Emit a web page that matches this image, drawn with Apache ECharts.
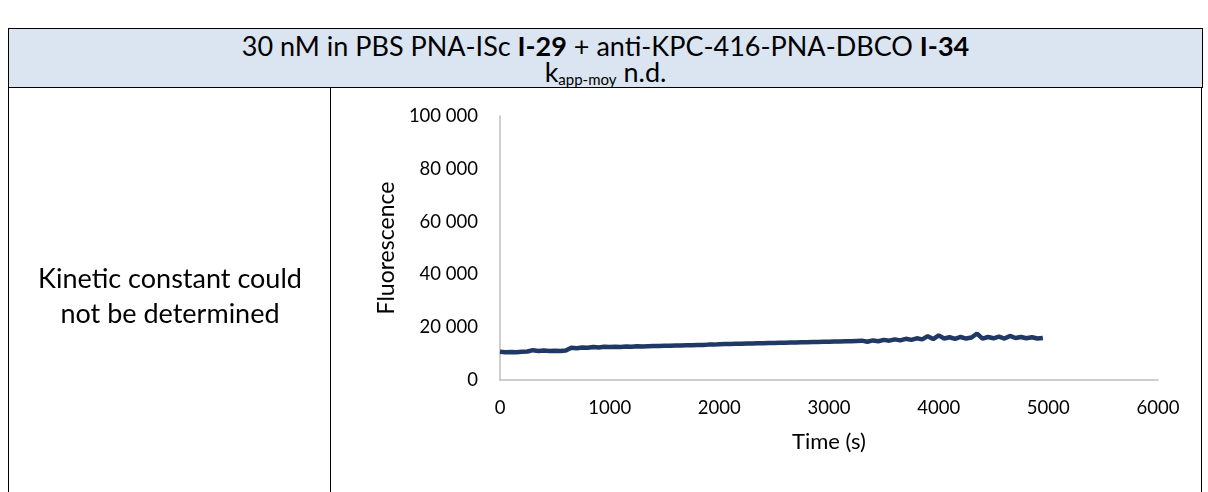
<!DOCTYPE html>
<html>
<head>
<meta charset="utf-8">
<script src="https://cdn.jsdelivr.net/npm/echarts@6/dist/echarts.min.js"></script>
<style>
  html, body { margin: 0; padding: 0; background: #ffffff; width: 1208px; height: 492px; overflow: hidden; }
  body { position: relative; font-family: Lato, "Open Sans", sans-serif; color: #000; }
  #header { position: absolute; left: 8px; top: 28px; width: 1193px; height: 58px; background: #dbe5f1;
            border: 1.5px solid #000; text-align: center; }
  #h1 { position: absolute; left: 0; right: 0; top: 2px; font-size: 27px; line-height: 30px; white-space: nowrap; }
  #h2 { position: absolute; left: 0; right: 0; top: 28px; font-size: 27px; line-height: 30px; white-space: nowrap; }
  #h2 sub { font-size: 15px; vertical-align: -3px; line-height: 0; }
  #leftBorder { position: absolute; left: 8px; top: 88px; width: 0; height: 404px; border-left: 1.5px solid #000; }
  #divider { position: absolute; left: 330px; top: 88px; width: 0; height: 404px; border-left: 1.5px solid #000; }
  #rightBorder { position: absolute; left: 1201px; top: 88px; width: 0; height: 404px; border-left: 1.5px solid #000; }
  #note { position: absolute; left: 10px; width: 320px; top: 260px; text-align: center; font-size: 27px; line-height: 35px; white-space: nowrap; }
  #chart { position: absolute; left: 0; top: 0; width: 1208px; height: 492px; }
</style>
</head>
<body>
<div id="chart"></div>
<div id="header">
  <div id="h1">30 nM in PBS PNA-ISc <b>I-29</b> + anti-KPC-416-PNA-DBCO <b>I-34</b></div>
  <div id="h2">k<sub>app-moy</sub> n.d.</div>
</div>
<div id="leftBorder"></div>
<div id="divider"></div>
<div id="rightBorder"></div>
<div id="note">Kinetic constant could<br>not be determined</div>
<script>
// ---- Data ----
const timeSeconds = [
  0, 50, 100, 150, 200, 250, 300, 350, 400, 450,
  500, 550, 600, 650, 700, 750, 800, 850, 900, 950,
  1000, 1050, 1100, 1150, 1200, 1250, 1300, 1350, 1400, 1450,
  1500, 1550, 1600, 1650, 1700, 1750, 1800, 1850, 1900, 1950,
  2000, 2050, 2100, 2150, 2200, 2250, 2300, 2350, 2400, 2450,
  2500, 2550, 2600, 2650, 2700, 2750, 2800, 2850, 2900, 2950,
  3000, 3050, 3100, 3150, 3200, 3250, 3300, 3350, 3400, 3450,
  3500, 3550, 3600, 3650, 3700, 3750, 3800, 3850, 3900, 3950,
  4000, 4050, 4100, 4150, 4200, 4250, 4300, 4350, 4400, 4450,
  4500, 4550, 4600, 4650, 4700, 4750, 4800, 4850, 4900, 4950
];
const fluorescence = [
  10700, 10500, 10600, 10500, 10700, 10800, 11300, 11000, 11200, 11000,
  11100, 11000, 11200, 12200, 12000, 12300, 12200, 12500, 12300, 12600,
  12500, 12600, 12500, 12700, 12600, 12800, 12700, 12800, 12900, 12900,
  13000, 13000, 13100, 13100, 13200, 13200, 13300, 13300, 13400, 13400,
  13500, 13600, 13600, 13700, 13700, 13800, 13800, 13900, 13900, 14000,
  14000, 14100, 14100, 14200, 14200, 14300, 14300, 14400, 14400, 14500,
  14500, 14600, 14600, 14700, 14700, 14800, 14900, 14500, 15000, 14700,
  15200, 14900, 15400, 15000, 15600, 15200, 15800, 15400, 16600, 15500,
  16900, 15700, 16200, 15600, 16300, 15700, 16100, 17600, 15700, 16300,
  15800, 16400, 15700, 16700, 15900, 16300, 15800, 16200, 15700, 15900
];
const xTicks = [0, 1000, 2000, 3000, 4000, 5000, 6000];
const yTicks = [0, 20000, 40000, 60000, 80000, 100000];

const chart = echarts.init(document.getElementById('chart'), null, { renderer: 'canvas' });
const FONT = 'Lato, "Open Sans", sans-serif';

chart.setOption({
  animation: false,
  backgroundColor: 'transparent',
  grid: { left: 500, right: 50, top: 116, bottom: 112, containLabel: false },
  xAxis: {
    type: 'value',
    min: xTicks[0], max: xTicks[xTicks.length - 1], interval: 1000,
    name: 'Time (s)', nameLocation: 'middle', nameGap: 51,
    nameTextStyle: { fontFamily: FONT, fontSize: 22, color: '#000' },
    axisLine: { show: true, lineStyle: { color: '#bfbfbf', width: 1.5 } },
    axisTick: { show: false },
    splitLine: { show: false },
    axisLabel: { fontFamily: FONT, fontSize: 18.5, color: '#000', margin: 19, formatter: v => String(v) }
  },
  yAxis: {
    type: 'value',
    min: yTicks[0], max: yTicks[yTicks.length - 1], interval: 20000,
    name: 'Fluorescence', nameLocation: 'middle', nameGap: 100, nameRotate: 90,
    nameTextStyle: { fontFamily: FONT, fontSize: 23, color: '#000' },
    axisLine: { show: true, lineStyle: { color: '#bfbfbf', width: 1.5 } },
    axisTick: { show: false },
    splitLine: { show: false },
    axisLabel: {
      fontFamily: FONT, fontSize: 18.5, color: '#000', margin: 22,
      formatter: v => String(v).replace(/\B(?=(\d{3})+(?!\d))/g, ' ')
    }
  },
  series: [{
    type: 'line',
    data: timeSeconds.map((t, i) => [t, fluorescence[i]]),
    showSymbol: false,
    lineStyle: { color: '#203864', width: 4.5 },
    itemStyle: { color: '#203864' }
  }]
});
</script>
</body>
</html>
